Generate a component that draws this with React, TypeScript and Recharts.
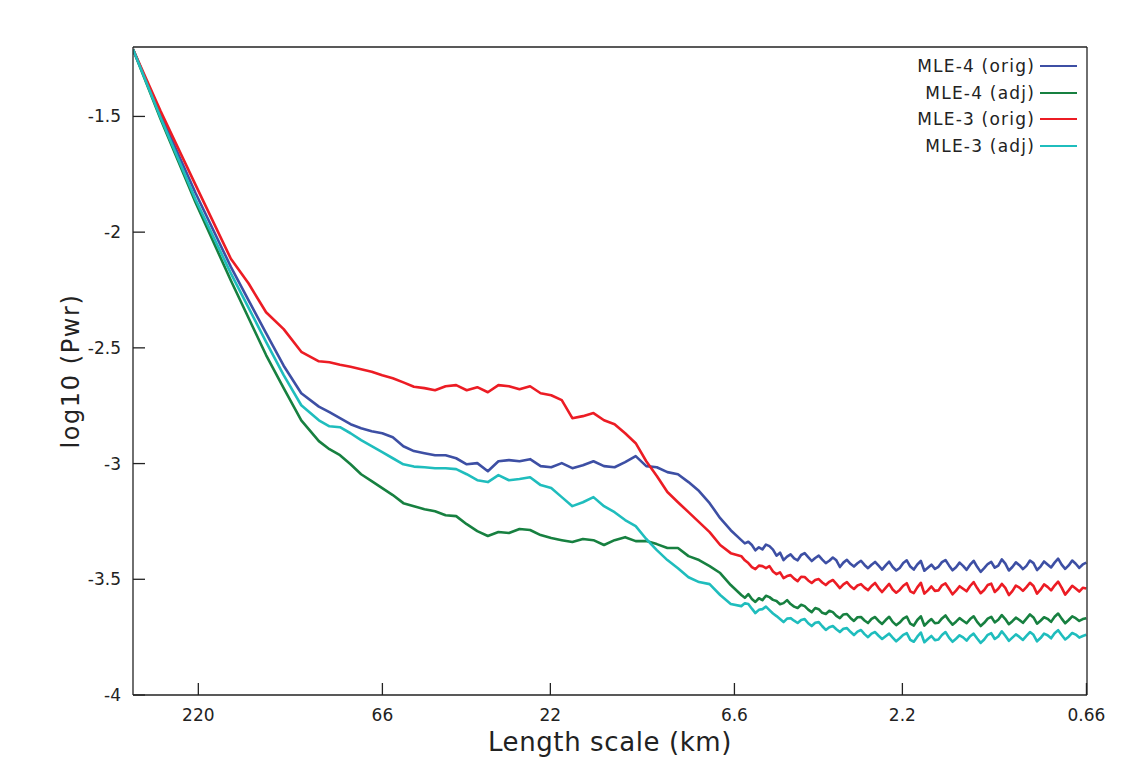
import { LineChart, Line, XAxis, YAxis } from "recharts";

// x = log10(1 / length in km)
const logInvLength = [
  -2.528, -2.45, -2.35, -2.25, -2.2, -2.15, -2.1, -2.05,
  -2.0, -1.97, -1.94, -1.91, -1.88, -1.85, -1.82, -1.79, -1.76, -1.73,
  -1.7, -1.67, -1.64, -1.61, -1.58, -1.55, -1.52, -1.49, -1.46, -1.43,
  -1.4, -1.37, -1.34, -1.31, -1.28, -1.25, -1.22, -1.19, -1.16, -1.13,
  -1.1, -1.07, -1.04, -1.01, -0.98, -0.95, -0.92, -0.89, -0.86, -0.83,
  -0.8, -0.79, -0.78, -0.77, -0.76, -0.75, -0.74, -0.73, -0.72, -0.71,
  -0.7, -0.69, -0.68, -0.67, -0.66, -0.65, -0.64, -0.63, -0.62, -0.61,
  -0.6, -0.59, -0.58, -0.57, -0.56, -0.55, -0.54, -0.53, -0.52, -0.51,
  -0.5, -0.49, -0.48, -0.47, -0.46, -0.45, -0.44, -0.43, -0.42, -0.41,
  -0.4, -0.39, -0.38, -0.37, -0.36, -0.35, -0.34, -0.33, -0.32, -0.31,
  -0.3, -0.29, -0.28, -0.27, -0.26, -0.25, -0.24, -0.23, -0.22, -0.21,
  -0.2, -0.19, -0.18, -0.17, -0.16, -0.15, -0.14, -0.13, -0.12, -0.11,
  -0.1, -0.09, -0.08, -0.07, -0.06, -0.05, -0.04, -0.03, -0.02, -0.01,
  0, 0.01, 0.02, 0.03, 0.04, 0.05, 0.06, 0.07, 0.08, 0.09,
  0.1, 0.11, 0.12, 0.13, 0.14, 0.15, 0.16, 0.17, 0.18,
];

const mle4Orig = [
  -1.21, -1.491, -1.832, -2.15, -2.294, -2.436, -2.577, -2.696,
  -2.754, -2.778, -2.804, -2.83, -2.847, -2.86, -2.869, -2.886, -2.925, -2.946,
  -2.955, -2.964, -2.964, -2.977, -3.003, -2.998, -3.033, -2.99, -2.985, -2.99,
  -2.981, -3.011, -3.016, -2.998, -3.02, -3.007, -2.99, -3.011, -3.016, -2.994,
  -2.968, -3.011, -3.016, -3.037, -3.046, -3.08, -3.119, -3.171, -3.236, -3.288,
  -3.331, -3.345, -3.338, -3.352, -3.375, -3.362, -3.371, -3.35, -3.357, -3.372,
  -3.398, -3.385, -3.417, -3.402, -3.392, -3.41, -3.418, -3.395, -3.387, -3.404,
  -3.421, -3.408, -3.398, -3.415, -3.43, -3.42, -3.406, -3.418, -3.447, -3.428,
  -3.416, -3.433, -3.445, -3.431, -3.42, -3.438, -3.452, -3.437, -3.425, -3.441,
  -3.458, -3.44, -3.424, -3.447, -3.462, -3.451, -3.43, -3.418, -3.445, -3.458,
  -3.436, -3.421, -3.463, -3.45, -3.437, -3.455, -3.446, -3.426, -3.417, -3.44,
  -3.461, -3.448, -3.428, -3.442, -3.459, -3.437, -3.42, -3.446, -3.468, -3.452,
  -3.434, -3.425, -3.45, -3.441, -3.414, -3.432, -3.462, -3.447, -3.427, -3.439,
  -3.456, -3.442, -3.419, -3.43, -3.46, -3.445, -3.423, -3.436, -3.449, -3.428,
  -3.411, -3.437, -3.455, -3.44, -3.419, -3.433, -3.451, -3.436, -3.428,
];

const mle4Adj = [
  -1.21, -1.51, -1.873, -2.209, -2.37, -2.531, -2.674, -2.813,
  -2.903, -2.938, -2.964, -3.003, -3.046, -3.076, -3.106, -3.136, -3.171, -3.184,
  -3.197, -3.206, -3.223, -3.227, -3.262, -3.292, -3.313, -3.296, -3.3, -3.283,
  -3.287, -3.309, -3.322, -3.331, -3.339, -3.326, -3.331, -3.352, -3.331, -3.318,
  -3.335, -3.335, -3.348, -3.365, -3.365, -3.4, -3.417, -3.443, -3.473, -3.525,
  -3.568, -3.58, -3.564, -3.585, -3.598, -3.582, -3.59, -3.571, -3.577, -3.589,
  -3.594, -3.608, -3.603, -3.59, -3.607, -3.618, -3.624, -3.61, -3.616, -3.631,
  -3.642, -3.624, -3.629, -3.645, -3.65, -3.636, -3.642, -3.658, -3.668, -3.652,
  -3.65, -3.667, -3.68, -3.664, -3.663, -3.678, -3.689, -3.671, -3.663, -3.68,
  -3.693, -3.676, -3.662, -3.684, -3.698, -3.687, -3.67, -3.661, -3.692, -3.7,
  -3.676, -3.66, -3.7, -3.685, -3.672, -3.69, -3.688, -3.669, -3.656, -3.678,
  -3.696, -3.683, -3.668, -3.679, -3.69, -3.672, -3.66, -3.684, -3.702, -3.688,
  -3.67, -3.662, -3.686, -3.675, -3.655, -3.672, -3.694, -3.681, -3.666, -3.676,
  -3.688, -3.67, -3.652, -3.665, -3.692, -3.679, -3.664, -3.671, -3.684, -3.662,
  -3.648, -3.67, -3.69, -3.676, -3.66, -3.668, -3.68, -3.672, -3.668,
];

const mle3Orig = [
  -1.21, -1.476, -1.797, -2.115, -2.221, -2.346, -2.419, -2.517,
  -2.558, -2.562, -2.573, -2.582, -2.592, -2.603, -2.618, -2.631, -2.649, -2.668,
  -2.674, -2.683, -2.666, -2.661, -2.683, -2.67, -2.692, -2.661, -2.666, -2.679,
  -2.666, -2.696, -2.705, -2.726, -2.804, -2.795, -2.782, -2.813, -2.83, -2.869,
  -2.912, -2.99, -3.054, -3.123, -3.167, -3.21, -3.253, -3.296, -3.352, -3.387,
  -3.4, -3.418, -3.43, -3.447, -3.456, -3.441, -3.443, -3.452, -3.443, -3.466,
  -3.478, -3.47, -3.495, -3.486, -3.482, -3.497, -3.508, -3.489, -3.49, -3.505,
  -3.516, -3.503, -3.499, -3.514, -3.525, -3.511, -3.503, -3.52, -3.538, -3.522,
  -3.512, -3.53, -3.542, -3.527, -3.521, -3.536, -3.547, -3.529, -3.516, -3.538,
  -3.555, -3.537, -3.52, -3.544, -3.558, -3.546, -3.528, -3.517, -3.552, -3.56,
  -3.535, -3.515, -3.562, -3.548, -3.531, -3.55, -3.548, -3.526, -3.518, -3.541,
  -3.565, -3.549, -3.53, -3.541, -3.552, -3.529, -3.512, -3.538, -3.56, -3.546,
  -3.525, -3.519, -3.555, -3.541, -3.52, -3.537, -3.568, -3.551, -3.527, -3.536,
  -3.55, -3.534, -3.515, -3.529, -3.562, -3.545, -3.522, -3.533, -3.548, -3.527,
  -3.51, -3.536, -3.566, -3.548, -3.528, -3.54, -3.553, -3.537, -3.54,
];

const mle3Adj = [
  -1.21, -1.504, -1.86, -2.178, -2.326, -2.474, -2.618, -2.748,
  -2.813, -2.839, -2.843, -2.869, -2.899, -2.925, -2.951, -2.977, -3.003, -3.013,
  -3.016, -3.02, -3.02, -3.024, -3.046, -3.072, -3.08, -3.05, -3.072, -3.067,
  -3.059, -3.093, -3.106, -3.145, -3.184, -3.167, -3.145, -3.184, -3.21, -3.244,
  -3.27, -3.326, -3.374, -3.417, -3.452, -3.491, -3.512, -3.521, -3.568, -3.607,
  -3.616, -3.604, -3.607, -3.627, -3.646, -3.632, -3.629, -3.618, -3.633, -3.648,
  -3.659, -3.672, -3.685, -3.67, -3.668, -3.679, -3.689, -3.676, -3.672, -3.69,
  -3.702, -3.688, -3.685, -3.703, -3.719, -3.707, -3.702, -3.716, -3.728, -3.714,
  -3.711, -3.727, -3.741, -3.726, -3.719, -3.737, -3.75, -3.735, -3.728, -3.744,
  -3.758, -3.746, -3.735, -3.752, -3.768, -3.755, -3.74, -3.733, -3.762, -3.77,
  -3.748, -3.73, -3.772, -3.758, -3.745, -3.763, -3.76, -3.741, -3.728, -3.752,
  -3.77, -3.757, -3.742, -3.751, -3.765, -3.746, -3.735, -3.756, -3.775, -3.76,
  -3.74, -3.733, -3.758, -3.747, -3.725, -3.744, -3.766, -3.752, -3.738, -3.749,
  -3.762, -3.745, -3.728, -3.74, -3.768, -3.754, -3.735, -3.742, -3.755, -3.733,
  -3.72, -3.741, -3.76, -3.748, -3.732, -3.739, -3.752, -3.745, -3.74,
];

const lengthTickLabels = ["220", "66", "22", "6.6", "2.2", "0.66"];
const powerTicks = [-4, -3.5, -3, -2.5, -2, -1.5];

const series = [
  { key: "mle4orig", name: "MLE-4 (orig)", color: "#3d4fa4", values: mle4Orig },
  { key: "mle4adj", name: "MLE-4 (adj)", color: "#178040", values: mle4Adj },
  { key: "mle3orig", name: "MLE-3 (orig)", color: "#ec1c24", values: mle3Orig },
  { key: "mle3adj", name: "MLE-3 (adj)", color: "#1fbdbd", values: mle3Adj },
];

const data = logInvLength.map((x, i) => {
  const row: Record<string, number> = { x };
  series.forEach((s) => (row[s.key] = s.values[i]));
  return row;
});

const lengthTicks = lengthTickLabels.map((l) => -Math.log10(parseFloat(l)));
const lengthLabel = (v: number) => {
  const i = lengthTicks.findIndex((t) => Math.abs(t - v) < 1e-6);
  return i >= 0 ? lengthTickLabels[i] : "";
};

const xDomain = [-2.528, 0.182];
const yDomain = [-4, -1.2];
const ink = "#222";
const font = "DejaVu Sans";
const axisStroke = { stroke: ink, strokeWidth: 1.3 };

export default function App() {
  return (
    <div style={{ position: "absolute", left: 0, top: 0, width: 1144, height: 775, background: "#fff", fontFamily: font }}>
      <LineChart width={1144} height={775} data={data} margin={{ top: 46, right: 56, bottom: 79, left: 132 }}>
        <XAxis
          dataKey="x"
          type="number"
          domain={xDomain}
          allowDataOverflow
          ticks={lengthTicks}
          tickFormatter={lengthLabel}
          interval={0}
          height={1}
          tickSize={-12}
          tickMargin={26}
          axisLine={axisStroke}
          tickLine={axisStroke}
          tick={{ fontSize: 17, fill: ink, fontFamily: font }}
        />
        <XAxis
          xAxisId="top"
          orientation="top"
          dataKey="x"
          type="number"
          domain={xDomain}
          allowDataOverflow
          ticks={lengthTicks}
          interval={0}
          height={1}
          tickSize={-12}
          axisLine={axisStroke}
          tickLine={axisStroke}
          tick={false}
        />
        <YAxis
          type="number"
          domain={yDomain}
          allowDataOverflow
          ticks={powerTicks}
          interval={0}
          width={1}
          tickSize={-12}
          tickMargin={24}
          axisLine={axisStroke}
          tickLine={axisStroke}
          tick={{ fontSize: 17, fill: ink, fontFamily: font }}
        />
        <YAxis
          yAxisId="right"
          orientation="right"
          type="number"
          domain={yDomain}
          allowDataOverflow
          ticks={powerTicks}
          interval={0}
          width={1}
          tickSize={-12}
          axisLine={axisStroke}
          tickLine={axisStroke}
          tick={false}
        />
        {series.map((s) => (
          <Line
            key={s.key}
            dataKey={s.key}
            name={s.name}
            type="linear"
            stroke={s.color}
            strokeWidth={2.6}
            strokeLinejoin="round"
            dot={false}
            isAnimationActive={false}
          />
        ))}
      </LineChart>

      {/* axis titles */}
      <div
        style={{
          position: "absolute",
          left: 71,
          top: 371,
          transform: "translate(-50%, -50%) rotate(-90deg)",
          whiteSpace: "nowrap",
          fontSize: 24,
          letterSpacing: 1.6,
          color: ink,
          lineHeight: 1,
        }}
      >
        log10 (Pwr)
      </div>
      <div
        style={{
          position: "absolute",
          left: 610,
          top: 729,
          transform: "translateX(-50%)",
          whiteSpace: "nowrap",
          fontSize: 26,
          letterSpacing: 0.6,
          color: ink,
          lineHeight: 1,
        }}
      >
        Length scale (km)
      </div>

      {/* legend */}
      <div style={{ position: "absolute", top: 52.7, right: 67, display: "flex", flexDirection: "column", alignItems: "flex-end" }}>
        {series.map((s) => (
          <div key={s.key} style={{ display: "flex", alignItems: "center", height: 26.7 }}>
            <span style={{ fontSize: 17, letterSpacing: 1.2, color: ink, whiteSpace: "nowrap" }}>{s.name}</span>
            <span style={{ display: "inline-block", width: 37, height: 2, background: s.color, marginLeft: 5 }} />
          </div>
        ))}
      </div>
    </div>
  );
}
